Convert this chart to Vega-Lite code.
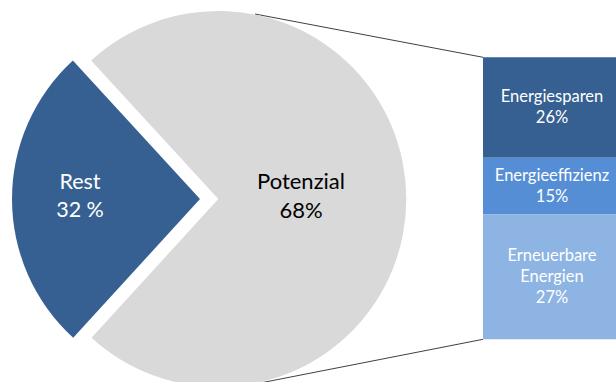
{
  "$schema": "https://vega.github.io/schema/vega-lite/v6.json",
  "width": 616,
  "height": 382,
  "autosize": "none",
  "padding": 0,
  "background": "white",
  "config": {"view": {"stroke": null}, "font": "Lato"},
  "datasets": {
    "pie": [
      {"cat": "Potenzial", "share": 73.6, "ord": 1, "label": "Potenzial\n68%"},
      {"cat": "Rest", "share": 26.4, "ord": 2, "label": "Rest\n32 %"}
    ],
    "bar": [
      {"cat": "Energiesparen", "share": 35.6, "ord": 1, "label": "Energiesparen\n26%"},
      {"cat": "Energieeffizienz", "share": 20.1, "ord": 2, "label": "Energieeffizienz\n15%"},
      {"cat": "Erneuerbare Energien", "share": 44.3, "ord": 3, "label": "Erneuerbare\nEnergien\n27%"}
    ]
  },
  "resolve": {"scale": {"color": "shared", "theta": "shared", "x": "shared", "y": "shared"}},
  "layer": [
    {
      "data": {"values": [{"side": "top"}]},
      "mark": {"type": "rule", "color": "#404040", "strokeWidth": 1},
      "encoding": {
        "x": {"datum": 255, "type": "quantitative", "scale": {"domain": [0, 616], "nice": false, "zero": false}, "axis": null},
        "y": {"datum": -15.35, "type": "quantitative", "scale": {"domain": [-20.32, 115.14], "nice": false, "zero": false, "reverse": true}, "axis": null},
        "x2": {"datum": 483},
        "y2": {"datum": 0}
      }
    },
    {
      "data": {"values": [{"side": "bottom"}]},
      "mark": {"type": "rule", "color": "#404040", "strokeWidth": 1},
      "encoding": {
        "x": {"datum": 255, "type": "quantitative", "axis": null},
        "y": {"datum": 115.85, "type": "quantitative", "axis": null},
        "x2": {"datum": 483},
        "y2": {"datum": 100}
      }
    },
    {
      "data": {"name": "pie"},
      "mark": {"type": "arc", "outerRadius": 188},
      "encoding": {
        "x": {"datum": 218.3, "type": "quantitative", "axis": null},
        "y": {"datum": 50.25, "type": "quantitative", "axis": null},
        "theta": {"field": "share", "type": "quantitative", "stack": true, "scale": {"domain": [0, 100], "range": [5.5405, 11.8237]}},
        "order": {"field": "ord"},
        "color": {"field": "cat", "type": "nominal", "legend": null,
          "scale": {"domain": ["Potenzial", "Rest", "Energiesparen", "Energieeffizienz", "Erneuerbare Energien"],
                    "range": ["#D9D9D9", "#376092", "#376092", "#558ED5", "#8DB4E2"]}},
        "opacity": {"condition": {"test": "datum.cat === 'Rest'", "value": 0}, "value": 1}
      }
    },
    {
      "data": {"name": "pie"},
      "mark": {"type": "arc", "outerRadius": 188},
      "encoding": {
        "x": {"datum": 200, "type": "quantitative", "axis": null},
        "y": {"datum": 50.25, "type": "quantitative", "axis": null},
        "theta": {"field": "share", "type": "quantitative", "stack": true},
        "order": {"field": "ord"},
        "color": {"field": "cat", "type": "nominal", "legend": null},
        "opacity": {"condition": {"test": "datum.cat === 'Rest'", "value": 1}, "value": 0}
      }
    },
    {
      "data": {"name": "pie"},
      "transform": [{"filter": "datum.cat === 'Rest'"}],
      "mark": {"type": "text", "color": "white", "fontSize": 21.5, "lineHeight": 28, "lineBreak": "\n", "align": "center", "baseline": "middle"},
      "encoding": {
        "x": {"datum": 80, "type": "quantitative", "axis": null},
        "y": {"datum": 44.5, "type": "quantitative", "axis": null},
        "text": {"field": "label"}
      }
    },
    {
      "data": {"name": "pie"},
      "transform": [{"filter": "datum.cat === 'Potenzial'"}],
      "mark": {"type": "text", "color": "black", "fontSize": 22, "lineHeight": 29, "lineBreak": "\n", "align": "center", "baseline": "middle"},
      "encoding": {
        "x": {"datum": 301, "type": "quantitative", "axis": null},
        "y": {"datum": 44.2, "type": "quantitative", "axis": null},
        "text": {"field": "label"}
      }
    },
    {
      "data": {"name": "bar"},
      "transform": [
        {"stack": "share", "groupby": [], "sort": [{"field": "ord"}], "as": ["s0", "s1"]}
      ],
      "mark": {"type": "bar"},
      "encoding": {
        "x": {"datum": 483, "type": "quantitative", "axis": null},
        "x2": {"datum": 622},
        "y": {"field": "s0", "type": "quantitative", "axis": null},
        "y2": {"field": "s1"},
        "color": {"field": "cat", "type": "nominal", "legend": null}
      }
    },
    {
      "data": {"name": "bar"},
      "transform": [
        {"stack": "share", "groupby": [], "sort": [{"field": "ord"}], "as": ["s0", "s1"]},
        {"calculate": "(datum.s0 + datum.s1) / 2 - (split(datum.label, '\\n').length - 1) * 3.72", "as": "firstLine"}
      ],
      "mark": {"type": "text", "color": "white", "fontSize": 16.5, "lineHeight": 21, "lineBreak": "\n", "align": "center", "baseline": "middle"},
      "encoding": {
        "x": {"datum": 552, "type": "quantitative", "axis": null},
        "y": {"field": "firstLine", "type": "quantitative", "axis": null},
        "text": {"field": "label"}
      }
    }
  ]
}
